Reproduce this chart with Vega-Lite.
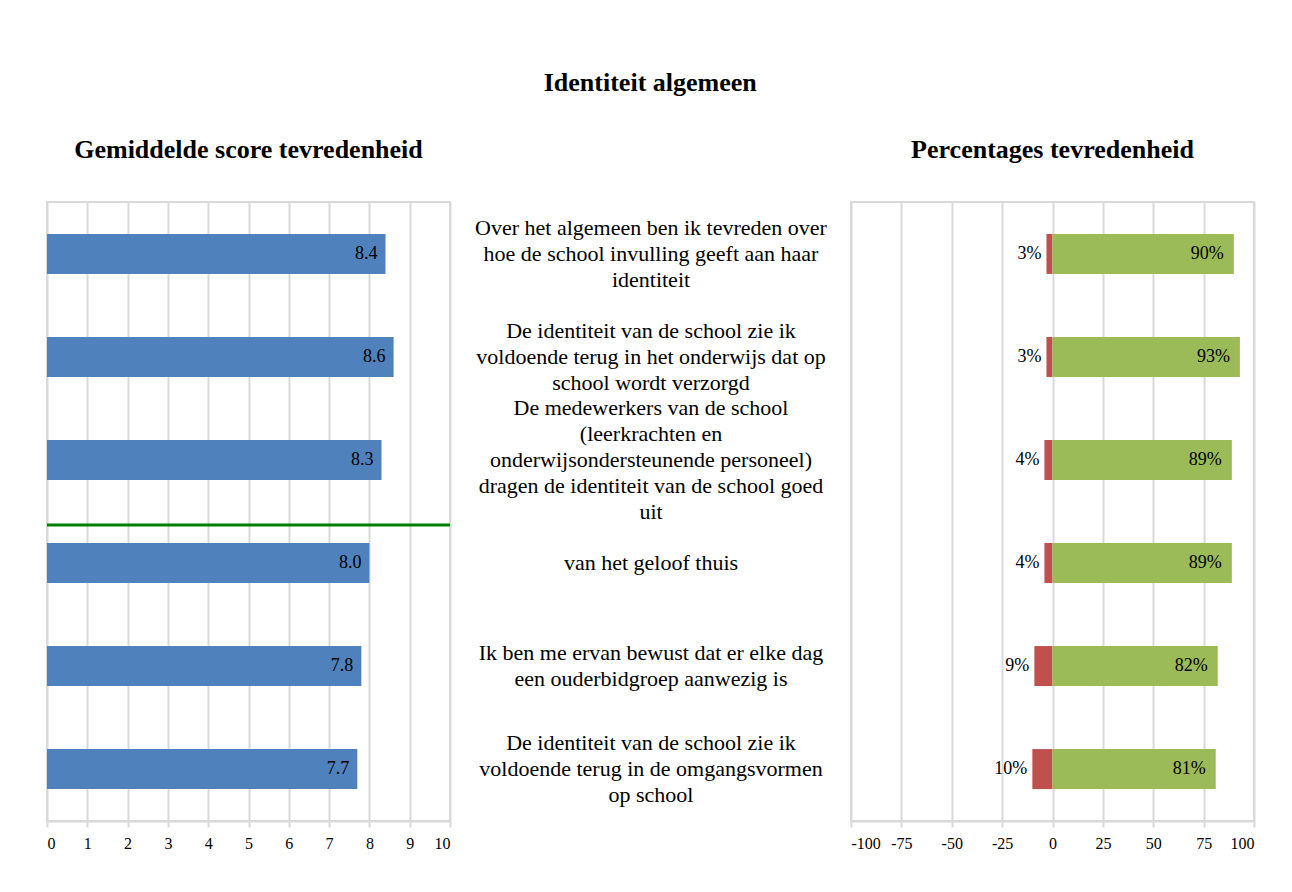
{
  "$schema": "https://vega.github.io/schema/vega-lite/v6.json",
  "background": "white",
  "padding": {"left": 44, "top": 70, "right": 0, "bottom": 0},
  "title": {"text": "Identiteit algemeen", "font": "Liberation Serif", "fontSize": 26, "fontWeight": "bold", "color": "black", "anchor": "middle", "offset": 40},
  "datasets": {
    "items": [
      {"nr": "1", "vraag": "Over het algemeen ben ik tevreden over\nhoe de school invulling geeft aan haar\nidentiteit", "score": 8.4, "ontevreden": -3, "tevreden": 90},
      {"nr": "2", "vraag": "De identiteit van de school zie ik\nvoldoende terug in het onderwijs dat op\nschool wordt verzorgd", "score": 8.6, "ontevreden": -3, "tevreden": 93},
      {"nr": "3", "vraag": "De medewerkers van de school\n(leerkrachten en\nonderwijsondersteunende personeel)\ndragen de identiteit van de school goed\nuit", "score": 8.3, "ontevreden": -4, "tevreden": 89},
      {"nr": "4", "vraag": "van het geloof thuis", "score": 8.0, "ontevreden": -4, "tevreden": 89},
      {"nr": "5", "vraag": "Ik ben me ervan bewust dat er elke dag\neen ouderbidgroep aanwezig is", "score": 7.8, "ontevreden": -9, "tevreden": 82},
      {"nr": "6", "vraag": "De identiteit van de school zie ik\nvoldoende terug in de omgangsvormen\nop school", "score": 7.7, "ontevreden": -10, "tevreden": 81}
    ]
  },
  "spacing": 0,
  "config": {
    "font": "Liberation Serif",
    "view": {"stroke": "#d9d9d9", "strokeWidth": 2},
    "title": {"font": "Liberation Serif", "fontSize": 26, "fontWeight": "bold", "color": "black", "offset": 39},
    "axis": {
      "labelFont": "Liberation Serif", "labelFontSize": 16, "labelColor": "black",
      "domainColor": "#d9d9d9", "domainWidth": 2, "tickColor": "#d9d9d9", "tickWidth": 2, "tickSize": 6,
      "gridColor": "#d9d9d9", "gridWidth": 2, "labelPadding": 8, "title": null,
      "labelExpr": "datum.value"
    },
    "text": {"lineBreak": "\n"}
  },
  "hconcat": [
    {
      "title": "Gemiddelde score tevredenheid",
      "width": 403, "height": 619,
      "data": {"name": "items"},
      "encoding": {
        "y": {"field": "nr", "type": "nominal", "axis": null, "scale": {"paddingInner": 0.612, "paddingOuter": 0.31}}
      },
      "layer": [
        {
          "mark": {"type": "bar", "color": "#4f81bd"},
          "encoding": {
            "x": {"field": "score", "type": "quantitative", "scale": {"domain": [0, 10], "nice": false}, "axis": {"values": [0,1,2,3,4,5,6,7,8,9,10], "grid": true}}
          }
        },
        {
          "mark": {"type": "text", "align": "right", "baseline": "middle", "dx": -8, "fontSize": 18, "color": "black"},
          "encoding": {
            "x": {"field": "score", "type": "quantitative"},
            "text": {"field": "score", "type": "quantitative", "format": ".1f"}
          }
        },
        {
          "data": {"values": [{"nr": "4"}]},
          "mark": {"type": "rule", "color": "#008000", "strokeWidth": 3},
          "encoding": {
            "y": {"field": "nr", "type": "nominal", "bandPosition": -0.45}
          }
        }
      ]
    },
    {
      "width": 396, "height": 619,
      "data": {"name": "items"},
      "view": {"stroke": null},
      "mark": {"type": "text", "fontSize": 22, "lineHeight": 26, "baseline": "middle", "align": "center", "color": "black",
               "dy": {"expr": "-(length(split(datum.vraag, '\\n')) - 1) * 13"}},
      "encoding": {
        "y": {"field": "nr", "type": "nominal", "axis": null, "scale": {"paddingInner": 0.612, "paddingOuter": 0.31}},
        "text": {"field": "vraag", "type": "nominal"}
      }
    },
    {
      "title": "Percentages tevredenheid",
      "width": 403, "height": 619,
      "data": {"name": "items"},
      "transform": [
        {"calculate": "abs(datum.ontevreden) + '%'", "as": "ontevreden_label"},
        {"calculate": "datum.tevreden + '%'", "as": "tevreden_label"}
      ],
      "encoding": {
        "y": {"field": "nr", "type": "nominal", "axis": null, "scale": {"paddingInner": 0.612, "paddingOuter": 0.31}}
      },
      "layer": [
        {
          "mark": {"type": "bar", "color": "#c0504d"},
          "encoding": {
            "x": {"field": "ontevreden", "type": "quantitative", "scale": {"domain": [-100, 100], "nice": false}, "axis": {"values": [-100,-75,-50,-25,0,25,50,75,100], "grid": true}}
          }
        },
        {
          "mark": {"type": "bar", "color": "#9bbb59"},
          "encoding": {
            "x": {"field": "tevreden", "type": "quantitative"}
          }
        },
        {
          "mark": {"type": "text", "align": "right", "baseline": "middle", "dx": -5, "fontSize": 18, "color": "black"},
          "encoding": {
            "x": {"field": "ontevreden", "type": "quantitative"},
            "text": {"field": "ontevreden_label", "type": "nominal"}
          }
        },
        {
          "mark": {"type": "text", "align": "right", "baseline": "middle", "dx": -10, "fontSize": 18, "color": "black"},
          "encoding": {
            "x": {"field": "tevreden", "type": "quantitative"},
            "text": {"field": "tevreden_label", "type": "nominal"}
          }
        }
      ]
    }
  ]
}
